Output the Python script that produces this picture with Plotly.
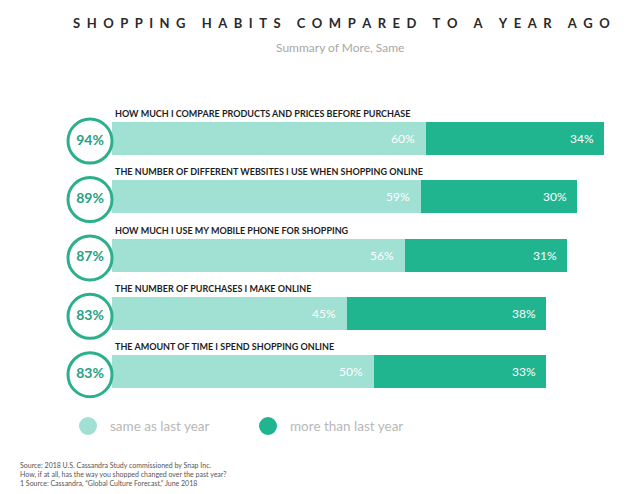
import plotly.graph_objects as go

categories = [
    "HOW MUCH I COMPARE PRODUCTS AND PRICES BEFORE PURCHASE",
    "THE NUMBER OF DIFFERENT WEBSITES I USE WHEN SHOPPING ONLINE",
    "HOW MUCH I USE MY MOBILE PHONE FOR SHOPPING",
    "THE NUMBER OF PURCHASES I MAKE ONLINE",
    "THE AMOUNT OF TIME I SPEND SHOPPING ONLINE",
]
same_vals = [60, 59, 56, 45, 50]
more_vals = [34, 30, 31, 38, 33]
series_names = ["same as last year", "more than last year"]

title = "SHOPPING HABITS COMPARED TO A YEAR AGO"
subtitle = "Summary of More, Same"
footnote = [
    "Source: 2018 U.S. Cassandra Study commissioned by Snap Inc.",
    "How, if at all, has the way you shopped changed over the past year?",
    "1 Source: Cassandra, \u201cGlobal Culture Forecast,\u201d June 2018",
]

LIGHT = "#a0e1d3"
DARK = "#20b48f"
RING = "#2cb08b"
FONT = "Lato"

OFF = 8             # page body margin
W, H = 640 - OFF, 494 - OFF
X0PX = 112 - OFF    # pixel position of value 0 (in figure coords)
PXPER = 5.23        # pixels per percent
xr = [-X0PX / PXPER, (W - X0PX) / PXPER]

T = 109 - OFF
B = H - (401 - OFF)
ypos = list(range(len(categories)))
totals = [s + m for s, m in zip(same_vals, more_vals)]


def ypix(py):
    """reference pixel y (from top of window) -> paper y"""
    return (H - B - (py - OFF)) / (H - T - B)


def xpix(px):
    return (px - OFF) / W


fig = go.Figure()
fig.add_trace(go.Bar(y=ypos, x=same_vals, orientation="h", marker=dict(color=LIGHT, line=dict(width=0)),
                     width=0.565, name=series_names[0], hoverinfo="x"))
fig.add_trace(go.Bar(y=ypos, x=more_vals, orientation="h", marker=dict(color=DARK, line=dict(width=0)),
                     width=0.565, name=series_names[1], hoverinfo="x"))

# circles with totals
circ_x = (90 - 112) / PXPER
fig.add_trace(go.Scatter(
    x=[circ_x] * len(ypos), y=[p + 0.05 for p in ypos], mode="markers+text",
    marker=dict(size=44, color="white", line=dict(color=RING, width=3)),
    text=[f"{t}%" for t in totals], textposition="middle center",
    textfont=dict(family=FONT, size=14, color="#2a9f7f", weight="bold"),
    cliponaxis=False, showlegend=False, hoverinfo="skip"))

annotations = []
for i, cat in enumerate(categories):
    annotations.append(dict(x=0, y=i, xref="x", yref="y", text=cat, xanchor="left", yanchor="middle",
                            yshift=25, xshift=1, showarrow=False,
                            font=dict(family=FONT, size=9, color="#1e1e1e", weight="bold")))
    annotations.append(dict(x=same_vals[i], y=i, xref="x", yref="y", text=f"{same_vals[i]}%",
                            xanchor="right", yanchor="middle", xshift=-9, showarrow=False,
                            font=dict(family=FONT, size=12, color="white")))
    annotations.append(dict(x=same_vals[i] + more_vals[i], y=i, xref="x", yref="y", text=f"{more_vals[i]}%",
                            xanchor="right", yanchor="middle", xshift=-8, showarrow=False,
                            font=dict(family=FONT, size=12, color="white")))

LG = "\u2002"
spaced = (LG + " " + LG).join(LG.join(w) for w in title.split(" "))
annotations.append(dict(x=xpix(341), y=ypix(23), xref="paper", yref="paper", text=spaced,
                        xanchor="center", yanchor="middle", showarrow=False,
                        font=dict(family=FONT, size=13, color="#2a2a2a", weight="bold")))
annotations.append(dict(x=xpix(340), y=ypix(47), xref="paper", yref="paper", text=subtitle,
                        xanchor="center", yanchor="middle", showarrow=False,
                        font=dict(family=FONT, size=12, color="#a8a8a8")))

# legend
leg = [(88, 108, LIGHT, series_names[0]), (268, 288, DARK, series_names[1])]
shapes = []
for cx, tx, col, name in leg:
    shapes.append(dict(type="circle", xref="paper", yref="paper", xsizemode="pixel", ysizemode="pixel",
                       xanchor=xpix(cx), yanchor=ypix(426),
                       x0=-9, x1=9, y0=-9, y1=9, fillcolor=col, line=dict(width=0)))
    annotations.append(dict(x=xpix(tx), y=ypix(426), xref="paper", yref="paper", text=name,
                            xanchor="left", yanchor="middle", showarrow=False,
                            font=dict(family=FONT, size=13.5, color="#b8b8b8")))

for k, line in enumerate(footnote):
    annotations.append(dict(x=xpix(18), y=ypix(465 + 9 * k), xref="paper", yref="paper", text=line,
                            xanchor="left", yanchor="middle", showarrow=False,
                            font=dict(family=FONT, size=7, color="#555555")))

fig.update_layout(
    width=W, height=H, barmode="stack", showlegend=False,
    margin=dict(l=0, r=0, t=T, b=B),
    plot_bgcolor="white", paper_bgcolor="white",
    xaxis=dict(range=xr, visible=False, fixedrange=True),
    yaxis=dict(range=[4.5, -0.5], visible=False, fixedrange=True),
    annotations=annotations, shapes=shapes, bargap=0,
)

fig.write_html("out.html")
